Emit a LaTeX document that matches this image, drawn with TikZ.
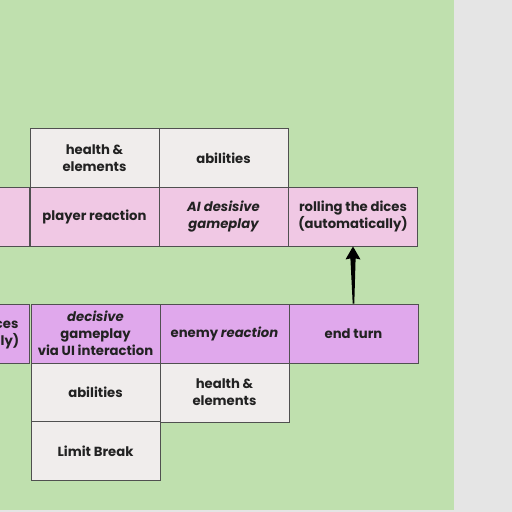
\documentclass[tikz,border=0pt]{standalone}
\usepackage{fontspec}
\setmainfont{Poppins}[BoldFont={* Bold},BoldItalicFont={* Bold Italic}]
\usetikzlibrary{calc}
\definecolor{bggray}{HTML}{E5E5E5}
\definecolor{bggreen}{HTML}{BFE0AE}
\definecolor{cellgray}{HTML}{F0EDEC}
\definecolor{cellpink}{HTML}{F0C8E4}
\definecolor{cellpurple}{HTML}{E0A8EC}
\definecolor{edge}{HTML}{505050}
\definecolor{ink}{HTML}{222222}
\tikzset{
  cell/.style={draw=edge,line width=0.9pt,minimum width=129pt,minimum height=59pt,
    inner sep=0pt,align=center,text=ink,font=\fontsize{13.2}{17}\selectfont\bfseries},
  gcell/.style={cell,fill=cellgray},
  pcell/.style={cell,fill=cellpink},
  vcell/.style={cell,fill=cellpurple},
}
\begin{document}
\begin{tikzpicture}[x=1pt,y=-1pt]
\useasboundingbox (0,0) rectangle (512,512);
\clip (0,0) rectangle (512,512);
\fill[bggray] (0,0) rectangle (512,512);
\fill[bggreen] (0,0) rectangle (454,510);
% upper band
\node[gcell] (hel1) at (94.5,158) {health \&\\elements};
\node[gcell] (abi1) at (223.5,158) {abilities};
\node[pcell] (pinkL) at (-35.5,216.5) {};
\node[pcell] (player) at (94.5,216.5) {player reaction};
\node[pcell] (ai) at (223.5,216.5) {\itshape AI desisive\\\itshape gameplay};
\node[pcell] (rolling) at (353,216.5) {rolling the dices\\(automatically)};
% lower band
\node[vcell] (purpL) at (-35.5,333.5) {rolling the dices\\(automatically)};
\node[vcell] (decisive) at (95.5,333.5) {\itshape decisive\\gameplay\\via UI interaction};
\node[vcell] (enemy) at (224.5,333.5) {enemy \itshape reaction};
\node[vcell] (endturn) at (353.5,333.5) {end turn};
\node[gcell] (abi2) at (95.5,392.5) {abilities};
\node[gcell] (hel2) at (224.5,392.5) {health \&\\elements};
\node[gcell] (limit) at (95.5,451) {Limit Break};
% tapered arrow
\fill[black] (rolling.south)
  -- ($(rolling.south)+(-7.5,13)$)
  -- ($(rolling.south)+(-2.6,12)$)
  -- ($(endturn.north)+(-0.8,0)$)
  -- ($(endturn.north)+(0.8,0)$)
  -- ($(rolling.south)+(2.6,12)$)
  -- ($(rolling.south)+(7.5,13)$)
  -- cycle;
\end{tikzpicture}
\end{document}
